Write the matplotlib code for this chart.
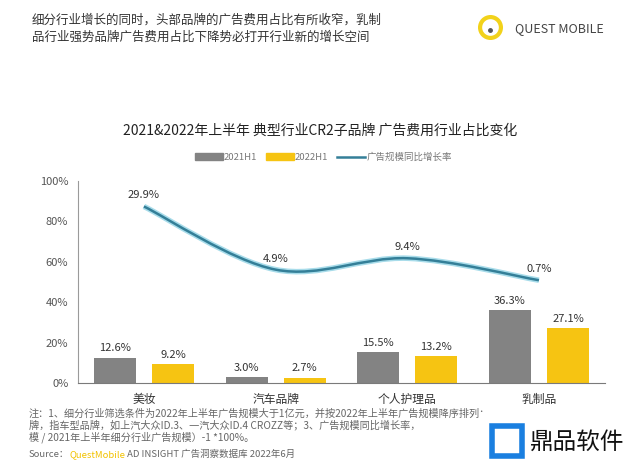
import matplotlib.pyplot as plt
from matplotlib.path import Path
from matplotlib.patches import PathPatch, Rectangle
from matplotlib.lines import Line2D
import matplotlib.patheffects as pe
import numpy as np

plt.rcParams['font.family'] = ['Noto Sans CJK SC', 'DejaVu Sans']

# 数据
categories = ['美妆', '汽车品牌', '个人护理品', '乳制品']
share_2021 = [12.6, 3.0, 15.5, 36.3]
share_2022 = [9.2, 2.7, 13.2, 27.1]
growth = [29.9, 4.9, 9.4, 0.7]
yticks = [0, 20, 40, 60, 80, 100]

gray = '#838383'
yellow = '#f6c412'
teal = '#347f98'

fig = plt.figure(figsize=(6.4, 4.7), dpi=100)
fig.patch.set_facecolor('white')

ax = fig.add_axes([0.122, 0.185, 0.823, 0.43])
x = np.arange(len(categories))
w = 0.32
b1 = ax.bar(x - 0.22, share_2021, w, color=gray, label='2021H1')
b2 = ax.bar(x + 0.22, share_2022, w, color=yellow, label='2022H1')
for bars, vals in ((b1, share_2021), (b2, share_2022)):
    for r, v in zip(bars, vals):
        ax.annotate(f'{v:.1f}%', (r.get_x() + r.get_width() / 2, v),
                    xytext=(0, 3), textcoords='offset points',
                    ha='center', va='bottom', fontsize=8, color='#333333')

ax.set_xlim(-0.5, 3.5)
ax.set_ylim(0, 100)
ax.set_yticks(yticks)
ax.set_yticklabels([f'{t}%' for t in yticks], fontsize=8, color='#555555')
ax.set_xticks(x)
ax.set_xticklabels(categories, fontsize=8.5, color='#333333')
ax.tick_params(length=0, pad=7)
for s in ('top', 'right'):
    ax.spines[s].set_visible(False)
ax.spines['left'].set_color('#9a9a9a')
ax.spines['bottom'].set_color('#7a7a7a')

# 增长率用隐藏的次坐标轴
ax2 = ax.twinx()
ax2.set_ylim(-40, 40)
ax2.axis('off')

# 平滑曲线 (Catmull-Rom -> Bezier)
pts = np.column_stack([x, growth]).astype(float)
verts = [tuple(pts[0])]
codes = [Path.MOVETO]
for i in range(len(pts) - 1):
    p0 = pts[max(i - 1, 0)]
    p1 = pts[i]
    p2 = pts[i + 1]
    p3 = pts[min(i + 2, len(pts) - 1)]
    c1 = p1 + (p2 - p0) / 6
    c2 = p2 - (p3 - p1) / 6
    verts += [tuple(c1), tuple(c2), tuple(p2)]
    codes += [Path.CURVE4] * 3
curve = PathPatch(Path(verts, codes), facecolor='none', edgecolor=teal, lw=1.8,
                  path_effects=[pe.Stroke(linewidth=4, foreground='#a8dcea'), pe.Normal()])
ax2.add_patch(curve)
for xi, g in zip(x, growth):
    ax2.annotate(f'{g:.1f}%', (xi, g), xytext=(0, 8), textcoords='offset points',
                 ha='center', va='center', fontsize=8, color='#333333')

# 标题与图例
fig.text(0.5, 0.722, '2021&2022年上半年 典型行业CR2子品牌 广告费用行业占比变化',
         ha='center', va='center', fontsize=10, color='#222222')
handles = [Rectangle((0, 0), 1, 1, color=gray), Rectangle((0, 0), 1, 1, color=yellow),
           Line2D([], [], color=teal, lw=1.8)]
fig.legend(handles, ['2021H1', '2022H1', '广告规模同比增长率'], loc='center',
           bbox_to_anchor=(0.505, 0.665), ncol=3, frameon=False, fontsize=6.8,
           handlelength=3.0, handleheight=0.8, columnspacing=0.9, handletextpad=0.1,
           labelcolor='#777777')

# 顶部标题
fig.text(0.05, 0.972, '细分行业增长的同时，头部品牌的广告费用占比有所收窄，乳制\n品行业强势品牌广告费用占比下降势必打开行业新的增长空间',
         ha='left', va='top', fontsize=9, color='#333333', linespacing=1.5)
fig.add_artist(Line2D([0.765], [0.942], marker='o', markersize=15, mfc='none',
                      mec='#f2d21a', mew=3, transform=fig.transFigure))
fig.add_artist(Line2D([0.765], [0.937], marker='o', markersize=2.5, color='#555555',
                      transform=fig.transFigure))
fig.text(0.805, 0.94, 'QUEST MOBILE', ha='left', va='center', fontsize=9,
         color='#444444')

# 注释 (右下角被水印遮住的部分不画)
notes = ('注：1、细分行业筛选条件为2022年上半年广告规模大于1亿元，并按2022年上半年广告规模降序排列；\n'
         '牌，指车型品牌，如上汽大众ID.3、一汽大众ID.4 CROZZ等；3、广告规模同比增长率，\n'
         '模 / 2021年上半年细分行业广告规模）-1 *100%。')
fig.text(0.045, 0.132, notes, ha='left', va='top', fontsize=7.3, color='#666666',
         linespacing=1.1)
t1 = fig.text(0.045, 0.033, 'Source：', ha='left', va='center', fontsize=6.8, color='#666666')
t2 = fig.text(0, 0, 'QuestMobile', fontsize=6.8, color='#f2c200', ha='left', va='center')
t3 = fig.text(0, 0, ' AD INSIGHT 广告洞察数据库 2022年6月', fontsize=6.8,
              color='#666666', ha='left', va='center')
fig.canvas.draw()
inv = fig.transFigure.inverted()
x1 = inv.transform(t1.get_window_extent().get_points())[1, 0]
t2.set_position((x1, 0.033))
fig.canvas.draw()
x2 = inv.transform(t2.get_window_extent().get_points())[1, 0]
t3.set_position((x2, 0.033))

# 右下角水印
fig.patches.append(Rectangle((0.75, 0.0), 0.25, 0.12, transform=fig.transFigure,
                             facecolor='white', edgecolor='none', zorder=5))
fig.add_artist(Line2D([0.792], [0.062], marker='s', markersize=22, mfc='none',
                      mec='#1a7fe0', mew=4, transform=fig.transFigure, zorder=6))
fig.text(0.828, 0.06, '鼎品软件', ha='left', va='center', fontsize=17,
         color='#111111', zorder=6)

fig.savefig('out.png', dpi=100, facecolor='white')
